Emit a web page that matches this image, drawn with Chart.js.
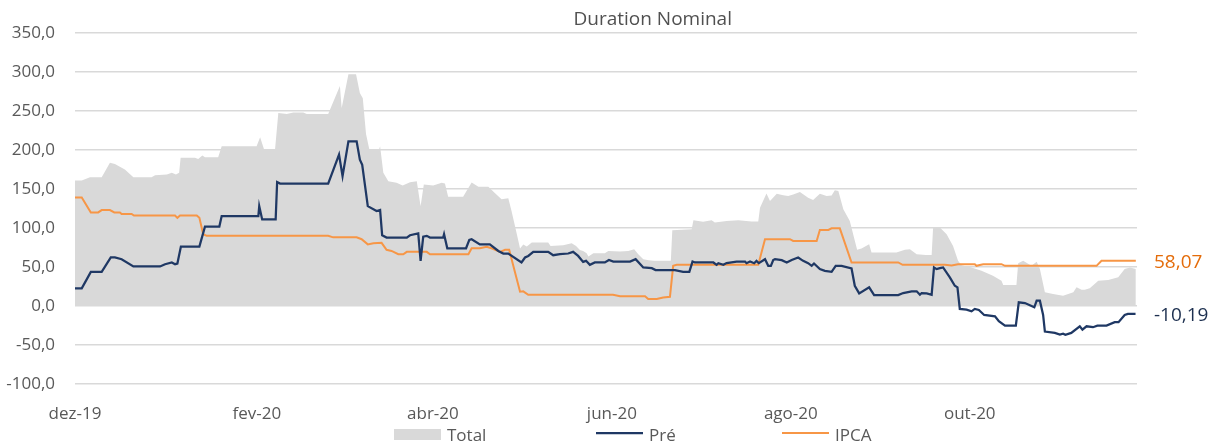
<!DOCTYPE html>
<html>
<head>
<meta charset="utf-8">
<script src="https://cdn.jsdelivr.net/npm/chart.js@4"></script>
<style>
  html, body { margin: 0; padding: 0; background: #ffffff; }
  #wrap { width: 1208px; height: 443px; position: relative; }
</style>
</head>
<body>
<div id="wrap"><canvas id="c" width="1208" height="443"></canvas></div>
<script>
const titleText = 'Duration Nominal';
const seriesNames = ['Total', 'Pré', 'IPCA'];
// x values: days since 1 Dec 2019
const tickDays = [0, 62, 122, 183, 244, 305];
const tickLabels = ['dez-19', 'fev-20', 'abr-20', 'jun-20', 'ago-20', 'out-20'];

const totalDays = [0,2.3,5.1,9.1,11.9,13.6,17.0,19.9,26.1,27.3,
31.3,33.0,34.4,35.5,36.0,40.9,42.0,43.4,44.3,48.8,
50.0,61.9,63.1,64.4,68.2,69.3,72.2,74.4,77.8,79.0,
86.3,90.3,90.9,93.2,95.8,97.1,98.1,99.2,100.3,103.7,
104.0,105.1,106.8,109.6,111.7,114.2,116.5,117.8,118.9,122.1,
125.0,126.1,127.2,132.3,135.2,137.5,140.9,143.1,145.4,147.7,
148.8,150.5,151.7,152.8,154.0,155.7,161.3,162.1,166.4,169.3,
170.8,172.1,173.2,174.4,175.0,176.7,180.6,181.8,185.8,188.6,
190.6,192.0,193.7,195.6,197.4,203.1,203.6,210.2,210.8,214.1,
217.0,218.1,222.1,226.1,230.6,232.9,233.5,235.7,236.9,239.2,
241.4,243.1,244.8,247.1,249.9,251.6,253.9,256.2,257.9,259.0,
260.2,261.9,264.1,266.6,268.1,270.7,271.5,280.0,282.9,284.6,
286.9,290.0,292.0,292.5,294.8,297.1,299.3,301.0,302.2,305.6,
309.0,312.9,315.8,316.4,320.9,321.5,323.2,326.0,327.8,328.9,
330.6,333.4,336.8,340.3,341.4,343.1,344.2,345.9,348.8,352.2,
355.6,357.8,359.6,361.6];
const totalVals = [161,161,165,165,183.5,182,175,165,165,167.7,
168.6,170.8,168.6,170.8,190,190,188.6,192.8,190.7,190.7,
204.7,204.7,216.2,201.4,201.4,247.4,246.1,248.1,248.1,246.1,
246.1,282.2,253.8,297.2,297.2,273,266.5,220.6,201.4,201.4,
204.7,170.8,160,158,154.5,158.7,160,128,155.8,154.5,
158,157,140,140,158.4,153,153,145,136.7,138,
121.7,94,73.7,79,76.2,81.3,81.3,77,77.9,80.5,
77,71.9,70.6,67.7,63.5,67.7,67.7,70.6,69.9,70.5,
72.8,66.4,60,58.7,57.9,57.9,97,98.3,110,108,
109.8,106.9,108.9,110,108.2,108.2,126,144.3,134.5,143.9,
142,140.9,143,146,138.8,135.8,143.9,140.9,141.8,148.5,
147.3,124,109,72,73.7,79.2,68.6,68.6,72,72.8,
66.4,65.5,65.5,100.5,100.5,92,77,58,52.4,49.4,
45.1,38.7,32.3,26.8,26.8,54.9,57.9,51.5,56.6,47.3,
17.5,15.3,13.2,17.5,23.9,20.8,20.8,22.6,32.3,33.2,
36.7,47.3,49.4,47.3];

const preDays = [0,2.3,5.4,9.1,12.2,13.6,15.9,19.9,29.0,30.7,
33.0,34.1,34.9,36.1,42.4,44.3,49.2,50.0,62.5,62.8,
63.8,68.4,68.9,69.9,86.3,90.0,91.2,93.2,96.0,97.1,
97.9,99.8,102.8,104.0,104.7,106.2,113.1,114.2,117.0,117.8,
118.7,119.9,121.0,125.5,125.8,126.9,133.3,134.4,135.2,138.0,
141.4,144.3,146.0,147.7,152.2,153.4,154.5,156.2,161.3,163.0,
165.3,168.1,169.8,171.5,173.2,174.2,175.5,177.2,180.6,182.0,
183.5,189.2,191.1,193.7,196.6,197.9,204.5,207.3,209.4,210.5,
211.3,217.6,218.7,219.3,221.0,222.1,225.5,228.4,228.9,230.1,
231.5,232.3,233.1,235.2,236.3,237.2,238.0,238.6,240.9,242.6,
244.3,246.5,248.2,249.9,251.1,251.9,253.9,255.6,257.9,259.3,
261.3,264.7,265.8,267.3,270.7,272.4,280.6,282.3,285.2,286.9,
288.0,288.6,290.3,292.0,292.8,293.7,294.8,295.9,298.2,299.9,
300.8,301.6,303.9,305.6,306.7,308.1,309.9,313.6,314.9,317.0,
320.7,321.7,323.8,327.0,327.8,328.9,330.0,330.6,334.0,335.7,
336.8,337.6,339.6,342.5,343.4,344.8,347.0,348.5,351.6,354.4,
355.7,357.8,358.9,361.5];
const preVals = [22.6,22.6,43.8,43.8,62.2,62.2,60,50.7,50.7,53.6,
55.8,53.6,54.5,76.2,76.2,101.8,101.8,115.3,115.3,128,
111,111,159,157,157,194,166.4,211,211,187.7,
181,128,121.7,123,90.7,87.7,87.7,90.7,93.2,57.9,
89,89.9,87.7,87.7,92,74,74,84.7,85.6,79,
79,70.6,67.3,67.3,55.8,62.2,64.2,69.4,69.4,65.1,
66.4,67.3,69.4,64.2,56.6,57.9,52.8,55.8,55.8,59,
57,57,60,49.4,48.5,46,46,43.8,43.8,57,
55.8,55.8,52.8,54.9,52.8,55,57,57,54.9,57,
54.9,57.9,54.9,60,51.5,51.5,59,60,58.7,55.8,
59,62.2,57.9,54.9,51.5,54.5,47.3,45.1,43.8,51.5,
51.5,48.1,25.9,16.2,23.9,14,14,16.6,18.8,18.8,
14.4,16.6,16.2,14.4,49.4,47.3,48.5,49.4,36.7,25.9,
23.9,-3.8,-4.7,-6.8,-3.8,-5.1,-11.5,-13.2,-19.5,-25.2,
-25.2,4.7,3.8,-1.7,6.8,6.8,-11.5,-32.8,-34.5,-36.7,
-35.5,-37,-34.5,-26,-30.3,-26,-27.2,-25.2,-25.2,-20.8,
-20.8,-11.5,-10.19,-10.19];

const ipcaDays = [0,2.3,5.4,7.9,9.1,11.9,13.4,15.3,15.9,19.3,
20.1,34.1,34.9,35.8,41.5,42.4,43.7,44.9,86.3,88.0,
96.0,97.7,99.8,101.7,104.5,106.2,107.9,110.2,111.9,113.1,
119.9,121.0,134.1,135.2,138.0,140.3,142.0,144.9,146.6,148.0,
150.0,151.7,152.8,154.5,183.4,185.8,194.3,195.4,198.3,200.5,
202.8,203.9,205.1,232.9,235.2,243.7,244.8,252.8,253.9,256.8,
257.9,260.7,264.7,280.6,282.1,296.5,298.8,301.0,306.7,307.3,
308.4,309.6,315.8,317.0,348.2,349.9,361.6];
const ipcaVals = [139,139,120,120,123,123,120,120,118,118,
116,116,113,116,116,113,92,90,90,88,
88,85.6,79,80.5,81,72,70.6,66.4,66.4,69.4,
69.4,66.4,66.4,74,74,76,74,69.4,72,72,
43,18.3,18.8,14.4,14.4,12.4,12.4,8.9,8.9,11,
11.9,51.5,52.8,52.8,85.6,85.6,83.4,83.4,97.5,97.5,
99.6,99.6,55.8,55.8,52.8,53,52,53.6,53.6,51.5,
52.5,53.6,53.6,51.5,51.5,58.07,58.07];

const COLORS = { total: '#d9d9d9', pre: '#1f3864', ipca: '#f79646', text: '#595959',
                 ipcaLabel: '#e46c0a', preLabel: '#1c2f4f', grid: '#d9d9d9' };
const FONT = '"Open Sans", "Noto Sans", sans-serif';

function pts(xs, ys) {
  const n = Math.min(xs.length, ys.length);
  const out = [];
  for (let i = 0; i < n; i++) out.push({ x: xs[i], y: ys[i] });
  return out;
}
function fmt(v) { return v.toFixed(1).replace('.', ','); }
function fmt2(v) { return v.toFixed(2).replace('.', ','); }

const overlay = {
  id: 'overlay',
  afterDraw(chart) {
    const ctx = chart.ctx;
    const a = chart.chartArea;
    const y = chart.scales.y;
    ctx.save();
    // title
    ctx.fillStyle = '#505050';
    ctx.font = '19px ' + FONT;
    ctx.textAlign = 'center';
    ctx.textBaseline = 'middle';
    ctx.fillText(titleText, a.left + (a.right - a.left) * 0.544, a.top - 13);

    // end-value labels
    const lastIpca = ipcaVals[ipcaVals.length - 1];
    const lastPre = preVals[preVals.length - 1];
    ctx.font = '19px ' + FONT;
    ctx.textAlign = 'left';
    ctx.fillStyle = COLORS.ipcaLabel;
    ctx.fillText(fmt2(lastIpca), a.right + 17, y.getPixelForValue(lastIpca) + 2);
    ctx.fillStyle = COLORS.preLabel;
    ctx.fillText(fmt2(lastPre), a.right + 17, y.getPixelForValue(lastPre) + 2);

    // legend
    const ly = a.bottom + 51;
    const starts = [394, 596, 782];
    const ds = chart.data.datasets;
    ctx.font = '17px ' + FONT;
    ctx.textBaseline = 'middle';
    for (let i = 0; i < 3; i++) {
      const x0 = starts[i];
      if (i === 0) {
        ctx.fillStyle = ds[2].backgroundColor;
        ctx.fillRect(x0, ly - 6, 47, 11);
      } else {
        const d = ds[i === 1 ? 0 : 1];
        ctx.strokeStyle = d.borderColor;
        ctx.lineWidth = d.borderWidth;
        ctx.beginPath();
        ctx.moveTo(x0, ly - 2);
        ctx.lineTo(x0 + 47, ly - 2);
        ctx.stroke();
      }
      ctx.fillStyle = COLORS.text;
      ctx.fillText(seriesNames[i], x0 + 53, ly + 1);
    }
    ctx.restore();
  }
};

new Chart(document.getElementById('c'), {
  type: 'line',
  data: {
    datasets: [
      { label: seriesNames[1], data: pts(preDays, preVals), borderColor: COLORS.pre,
        backgroundColor: COLORS.pre, borderWidth: 2.25, pointRadius: 0, tension: 0,
        fill: false, order: 0 },
      { label: seriesNames[2], data: pts(ipcaDays, ipcaVals), borderColor: COLORS.ipca,
        backgroundColor: COLORS.ipca, borderWidth: 2, pointRadius: 0, tension: 0,
        fill: false, order: 1 },
      { label: seriesNames[0], data: pts(totalDays, totalVals), borderColor: COLORS.total,
        backgroundColor: COLORS.total, borderWidth: 0, pointRadius: 0, tension: 0,
        fill: 'origin', order: 2 }
    ]
  },
  options: {
    responsive: false,
    animation: false,
    devicePixelRatio: 1,
    layout: { padding: { top: 33, right: 71, bottom: 0, left: 0 } },
    plugins: {
      legend: { display: false },
      title: { display: false },
      tooltip: { enabled: false }
    },
    scales: {
      x: {
        type: 'linear',
        min: 0,
        max: 362,
        afterBuildTicks: (s) => { s.ticks = tickDays.map(v => ({ value: v })); },
        afterFit: (s) => { s.height = 59; },
        grid: { display: false, drawTicks: false },
        border: { display: false },
        ticks: {
          autoSkip: false, maxRotation: 0, padding: 20,
          color: COLORS.text, font: { family: FONT, size: 17 },
          callback: (v, i) => tickLabels[i]
        }
      },
      y: {
        min: -100,
        max: 350,
        afterFit: (s) => { s.width = 75; },
        grid: { color: COLORS.grid, lineWidth: 1.5, drawTicks: false },
        border: { display: false },
        ticks: {
          stepSize: 50, padding: 20,
          color: COLORS.text, font: { family: FONT, size: 17 },
          callback: (v) => fmt(v)
        }
      }
    }
  },
  plugins: [overlay]
});
</script>
</body>
</html>
